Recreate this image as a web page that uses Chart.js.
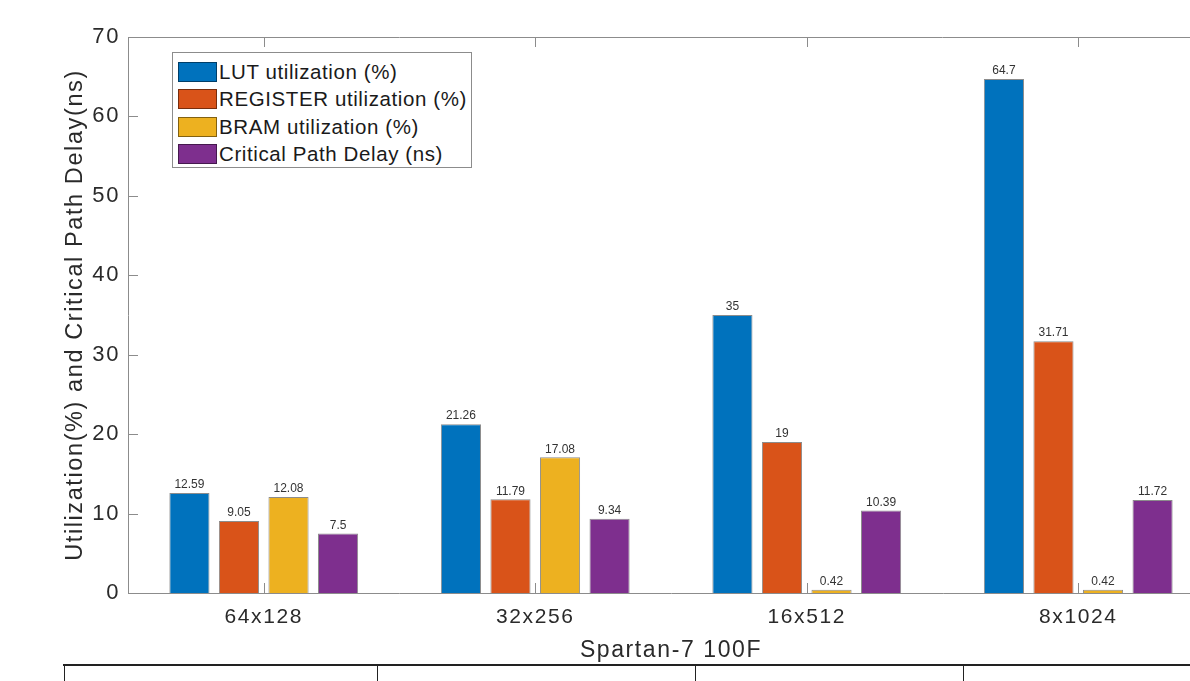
<!DOCTYPE html>
<html>
<head>
<meta charset="utf-8">
<script src="https://cdn.jsdelivr.net/npm/chart.js@4.4.1/dist/chart.umd.min.js"></script>
<style>
  html, body { margin: 0; padding: 0; background: #fff; }
  #wrap { position: relative; width: 1190px; height: 681px; overflow: hidden; }
  #box { position: absolute; left: 0; top: 0; width: 1240px; height: 681px; }
  #legend {
    position: absolute; left: 172px; top: 52px; width: 300px; height: 116px;
    border: 1px solid #8c8c8c; background: #fff; box-sizing: border-box;
    font-family: "Liberation Sans", Arial, sans-serif; font-size: 20.5px; letter-spacing: 0.6px; color: #1a1a1a;
    padding-top: 5px; white-space: nowrap;
  }
  .row { height: 27.5px; display: flex; align-items: center; }
  .sw { width: 39px; height: 20px; margin-left: 5px; margin-right: 2px; box-sizing: border-box; border: 1px solid rgba(0,0,0,0.45); }
  .tbl { position: absolute; background: #222; }
</style>
</head>
<body>
<div id="wrap">
  <div id="box"><canvas id="chart" width="1240" height="681"></canvas></div>
  <div id="legend"></div>
  <div class="tbl" style="left:63px; top:664px; width:1127px; height:2px;"></div>
  <div class="tbl" style="left:64px; top:664px; width:1px; height:17px;"></div>
  <div class="tbl" style="left:377px; top:664px; width:1px; height:17px;"></div>
  <div class="tbl" style="left:695px; top:664px; width:1px; height:17px;"></div>
  <div class="tbl" style="left:963px; top:664px; width:1px; height:17px;"></div>
</div>
<script>
// ── Data ──
const categories = ['64x128', '32x256', '16x512', '8x1024'];
const lutUtil = [12.59, 21.26, 35, 64.7];
const regUtil = [9.05, 11.79, 19, 31.71];
const bramUtil = [12.08, 17.08, 0.42, 0.42];
const pathDelay = [7.5, 9.34, 10.39, 11.72];
const seriesNames = ['LUT utilization (%)', 'REGISTER utilization (%)', 'BRAM utilization (%)', 'Critical Path Delay (ns)'];
const seriesColors = ['#0072BD', '#D95319', '#EDB120', '#7E2F8E'];
const yTicks = [0, 10, 20, 30, 40, 50, 60, 70];

const font = '"Liberation Sans", Arial, sans-serif';
const axisColor = '#8c8c8c';
const textSpacing = '1.6px'; // MATLAB's text renders wider than Liberation Sans

const seriesData = [lutUtil, regUtil, bramUtil, pathDelay];

// legend (html, sits inside the plot like MATLAB's)
const legendEl = document.getElementById('legend');
seriesNames.forEach((name, i) => {
    const row = document.createElement('div');
    row.className = 'row';
    const sw = document.createElement('div');
    sw.className = 'sw';
    sw.style.background = seriesColors[i];
    const txt = document.createElement('span');
    txt.textContent = name;
    row.appendChild(sw);
    row.appendChild(txt);
    legendEl.appendChild(row);
});

// widen axis text a little
const spacing = {
    id: 'spacing',
    beforeUpdate(chart) { chart.ctx.letterSpacing = textSpacing; },
    beforeLayout(chart) { chart.ctx.letterSpacing = textSpacing; },
    beforeDraw(chart) { chart.ctx.letterSpacing = textSpacing; }
};

// value labels above each bar
const valueLabels = {
    id: 'valueLabels',
    afterDatasetsDraw(chart) {
        const ctx = chart.ctx;
        ctx.save();
        ctx.letterSpacing = '0px';
        ctx.font = '12px ' + font;
        ctx.fillStyle = '#333';
        ctx.textAlign = 'center';
        ctx.textBaseline = 'bottom';
        chart.data.datasets.forEach((ds, i) => {
            chart.getDatasetMeta(i).data.forEach((bar, j) => {
                ctx.fillText(String(ds.data[j]), bar.x, bar.y - 2);
            });
        });
        ctx.restore();
    }
};

// MATLAB style box: top line + inward ticks
const matlabBox = {
    id: 'matlabBox',
    afterDraw(chart) {
        const { ctx, chartArea: a, scales } = chart;
        ctx.save();
        ctx.strokeStyle = axisColor;
        ctx.lineWidth = 1;
        ctx.beginPath();
        ctx.moveTo(a.left, a.top + 0.5);
        ctx.lineTo(a.right, a.top + 0.5);
        ctx.moveTo(a.right - 0.5, a.top);
        ctx.lineTo(a.right - 0.5, a.bottom);
        const y = scales.y;
        y.ticks.forEach((t, i) => {
            const py = Math.round(y.getPixelForTick(i)) + 0.5;
            ctx.moveTo(a.left, py); ctx.lineTo(a.left + 10, py);
            ctx.moveTo(a.right, py); ctx.lineTo(a.right - 10, py);
        });
        const x = scales.x;
        x.ticks.forEach((t, i) => {
            const px = Math.round(x.getPixelForTick(i)) + 0.5;
            ctx.moveTo(px, a.top); ctx.lineTo(px, a.top + 10);
            ctx.moveTo(px, a.bottom); ctx.lineTo(px, a.bottom - 10);
        });
        ctx.stroke();
        ctx.restore();
    }
};

new Chart(document.getElementById('chart'), {
    type: 'bar',
    data: {
        labels: categories,
        datasets: seriesNames.map((name, i) => ({
            label: name,
            data: seriesData[i],
            backgroundColor: seriesColors[i],
            borderColor: 'rgba(0,0,0,0.45)',
            borderWidth: 1,
            borderSkipped: 'bottom',
            categoryPercentage: 0.73,
            barPercentage: 0.81
        }))
    },
    options: {
        responsive: false,
        animation: false,
        events: [],
        layout: { padding: { top: 37, right: 26, left: 0, bottom: 0 } },
        plugins: {
            legend: { display: false },
            tooltip: { enabled: false }
        },
        scales: {
            x: {
                grid: { display: false, drawTicks: false },
                border: { display: true, color: axisColor, width: 1 },
                ticks: { font: { family: font, size: 21 }, color: '#2a2a2a', padding: 12, maxRotation: 0 },
                title: { display: true, text: 'Spartan-7 100F', font: { family: font, size: 23 }, color: '#2a2a2a', padding: { top: 0, bottom: 17 } },
                afterFit(s) { s.height = 88; }
            },
            y: {
                min: 0, max: 70,
                grid: { display: false, drawTicks: false },
                border: { display: true, color: axisColor, width: 1 },
                ticks: {
                    font: { family: font, size: 22 }, color: '#2a2a2a', padding: 8,
                    stepSize: 10,
                    callback: (v) => yTicks.includes(v) ? String(v) : ''
                },
                title: { display: true, text: 'Utilization(%) and Critical Path Delay(ns)', font: { family: font, size: 23.5 }, color: '#2a2a2a', padding: { top: 61, bottom: 0 } },
                afterFit(s) { s.width = 128; }
            }
        }
    },
    plugins: [spacing, valueLabels, matlabBox]
});
</script>
</body>
</html>
